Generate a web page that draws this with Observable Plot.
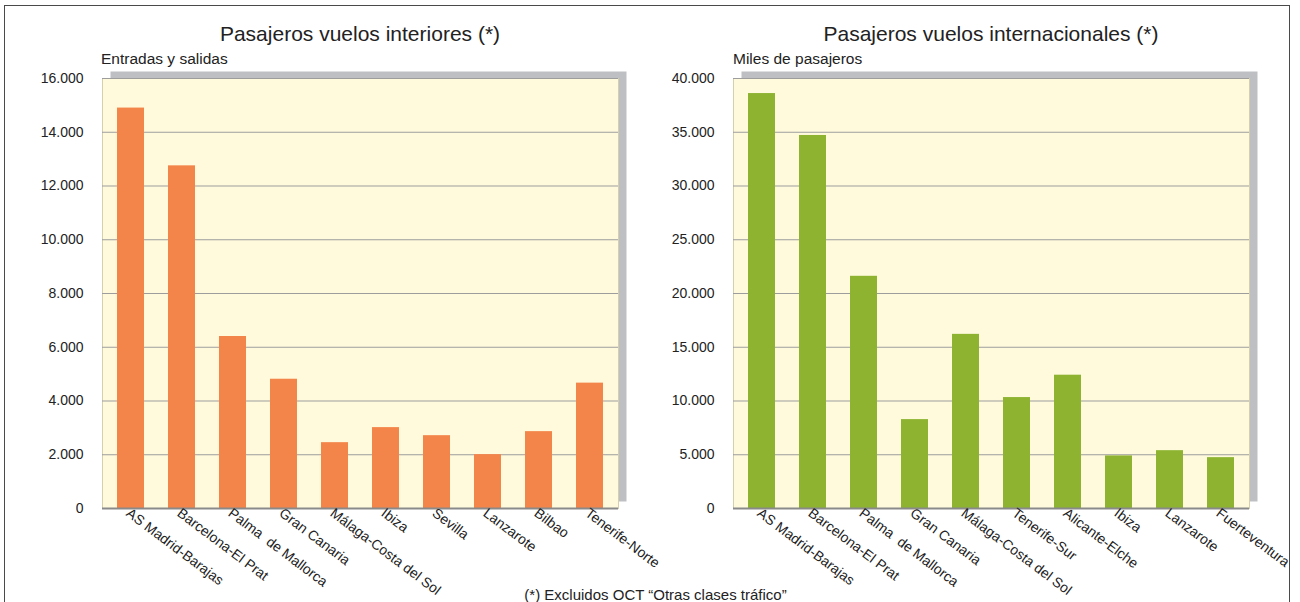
<!DOCTYPE html>
<html>
<head>
<meta charset="utf-8">
<script src="https://cdn.jsdelivr.net/npm/d3@7"></script>
<script src="https://cdn.jsdelivr.net/npm/@observablehq/plot@0.6"></script>
<style>
  body { margin: 0; background: #fff; }
  #wrap { position: relative; width: 1300px; height: 602px; overflow: hidden;
          font-family: "Liberation Sans", Arial, Helvetica, sans-serif; color: #222; }
  #border { position: absolute; left: 4px; top: 5px; width: 1286px; height: 640px;
            border: 1.5px solid #4a4a4a; box-sizing: border-box; }
  .title { position: absolute; font-size: 21px; line-height: 21px; text-align: center; white-space: nowrap; }
  .sub { position: absolute; font-size: 15.5px; line-height: 16px; white-space: nowrap; }
  .note { position: absolute; left: 0; width: 1311px; top: 587px; font-size: 15px; line-height: 15px; text-align: center; }
  .chart { position: absolute; top: 60px; }
</style>
</head>
<body>
<div id="wrap">
  <div id="border"></div>
  <div class="title" style="left:102px;width:516px;top:23px;">Pasajeros vuelos interiores (*)</div>
  <div class="sub" style="left:101px;top:51px;">Entradas y salidas</div>
  <div class="title" style="left:733px;width:516px;top:23px;">Pasajeros vuelos internacionales (*)</div>
  <div class="sub" style="left:733px;top:51px;">Miles de pasajeros</div>
  <div id="left" class="chart" style="left:0px;"></div>
  <div id="right" class="chart" style="left:650px;"></div>
  <div class="note">(*) Excluidos OCT “Otras clases tráfico”</div>
</div>
<script>
// ---- Data ----
const interiorAirports = ["AS Madrid-Barajas", "Barcelona-El Prat", "Palma\u00a0 de Mallorca", "Gran Canaria",
  "Málaga-Costa del Sol", "Ibiza", "Sevilla", "Lanzarote", "Bilbao", "Tenerife-Norte"];
const interiorValues = [14900, 12750, 6400, 4810, 2450, 3010, 2710, 2005, 2860, 4665];

const internationalAirports = ["AS Madrid-Barajas", "Barcelona-El Prat", "Palma\u00a0 de Mallorca", "Gran Canaria",
  "Málaga-Costa del Sol", "Tenerife-Sur", "Alicante-Elche", "Ibiza", "Lanzarote", "Fuerteventura"];
const internationalValues = [38600, 34700, 21600, 8270, 16200, 10320, 12400, 4890, 5380, 4730];

const interiorTicks = [0, 2000, 4000, 6000, 8000, 10000, 12000, 14000, 16000];
const internationalTicks = [0, 5000, 10000, 15000, 20000, 25000, 30000, 35000, 40000];

// ---- Chart ----
const fmt = d => d === 0 ? "0" : d3.format(",")(d).replace(/,/g, ".");
const FONT = "'Liberation Sans', Arial, Helvetica, sans-serif";

function chart(cats, vals, ticks, color, mLeft, mRight) {
  const data = cats.map((c, i) => ({airport: c, value: vals[i]}));
  return Plot.plot({
    width: 650, height: 542,
    marginTop: 18, marginBottom: 94, marginLeft: mLeft, marginRight: mRight,
    style: {fontFamily: FONT, fontSize: "13.5px", color: "#222", background: "transparent", overflow: "visible"},
    x: {domain: cats, paddingInner: 0.477, paddingOuter: 0.23, label: null},
    y: {domain: [0, ticks[ticks.length - 1]], label: null},
    marks: [
      Plot.frame({fill: "#bebfc3", dx: 8, dy: -7}),
      Plot.frame({fill: "#fffadc", stroke: "#d4d0ae", strokeWidth: 1}),
      Plot.ruleY(ticks.filter(t => t > 0), {stroke: "#9d9d9d", strokeWidth: 1}),
      Plot.barY(data, {x: "airport", y: "value", fill: color}),
      Plot.ruleY([0], {stroke: "#8a8a8a", strokeWidth: 2}),
      Plot.axisY({ticks, tickSize: 0, tickPadding: 19, tickFormat: fmt, fontSize: 14, label: null}),
      Plot.axisX({tickSize: 0, tickRotate: 37, tickPadding: 3, fontSize: 14, dx: -3, label: null})
    ]
  });
}

document.getElementById("left").append(
  chart(interiorAirports, interiorValues, interiorTicks, "#f4854a", 102, 32));
document.getElementById("right").append(
  chart(internationalAirports, internationalValues, internationalTicks, "#8db331", 83, 51));
</script>
</body>
</html>
